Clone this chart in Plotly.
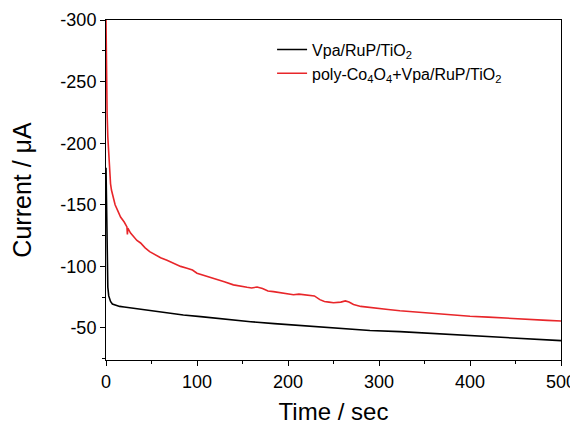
import plotly.graph_objects as go

# Black series: Vpa/RuP/TiO2
t_black = [0, 0.5, 1, 1.5, 2, 3, 4, 5, 7, 10, 15, 20, 30, 40, 50, 67, 85, 104, 130,
           159, 185, 213, 235, 258, 290, 323, 360, 400, 433, 470, 500]
i_black = [-180, -140, -110, -92, -83, -76, -73, -71.5, -69.5, -68.5, -67.5, -67, -66,
           -65, -64, -62, -60.5, -59.2, -57, -55.1, -53.5, -51.9, -50.8, -49.8, -48,
           -47, -45.5, -44.3, -43, -41.3, -39.7]

# Red series: poly-Co4O4+Vpa/RuP/TiO2
t_red = [0, 0.3, 0.7, 1.2, 2, 3, 4, 5, 6, 8, 10, 13, 16, 20, 23, 23.5, 24, 27, 30, 34,
         38, 43, 48, 55, 60, 67, 75, 82, 89, 95, 100, 111, 120, 130, 140, 148, 155, 160,
         166, 172, 178, 184, 195, 206, 212, 218, 224, 229, 235, 240, 245, 250, 258, 263,
         267, 272, 280, 290, 300, 310, 323, 340, 360, 378, 400, 420, 433, 450, 470, 485, 500]
i_red = [-300, -270, -245, -225, -205, -188, -175, -167, -162, -155, -150, -145, -140,
         -136, -132, -126, -131, -127, -124, -121, -119, -115, -112, -109, -107, -105,
         -102, -100, -98.5, -97, -94.5, -91.7, -90, -87.5, -85, -83.6, -83, -82.5, -83.2,
         -82, -80, -79.5, -78, -77, -77.5, -77, -77, -76, -73, -71.5, -71, -70.5, -71,
         -72, -71, -69, -67.5, -66.5, -65.5, -65, -64, -63, -61.8, -60.6, -59.5, -58.8,
         -58.4, -57.5, -56.8, -56.2, -55.7]

x_ticks = [0, 100, 200, 300, 400, 500]
x_labels = ["0", "100", "200", "300", "400", "500"]
y_ticks = [-300, -250, -200, -150, -100, -50]
y_labels = ["-300", "-250", "-200", "-150", "-100", "-50"]

font = "Arial, Liberation Sans, sans-serif"

fig = go.Figure()
fig.add_trace(go.Scatter(x=t_black, y=i_black, mode="lines", name="Vpa/RuP/TiO<sub>2</sub>",
                         line=dict(color="black", width=1.6)))
fig.add_trace(go.Scatter(x=t_red, y=i_red, mode="lines",
                         name="poly-Co<sub>4</sub>O<sub>4</sub>+Vpa/RuP/TiO<sub>2</sub>",
                         line=dict(color="#e8262a", width=1.6)))

axis_common = dict(showline=True, linecolor="black", linewidth=1, mirror=True,
                   ticks="outside", ticklen=5, tickwidth=1, tickcolor="black",
                   showgrid=False, zeroline=False, automargin=False,
                   tickfont=dict(family=font, size=18, color="black"))

fig.update_xaxes(range=[0, 500], tickvals=x_ticks, ticktext=x_labels,
                 minor=dict(ticks="outside", ticklen=3, dtick=50, tick0=0, tickcolor="black"),
                 title=dict(text="Time / sec", font=dict(family=font, size=24, color="black"),
                            standoff=17),
                 **axis_common)
fig.update_yaxes(range=[-24, -300], tickvals=y_ticks, ticktext=y_labels,
                 minor=dict(ticks="outside", ticklen=3, dtick=25, tick0=0, tickcolor="black"),
                 title=dict(text="Current / μA", font=dict(family=font, size=25, color="black"),
                            standoff=23),
                 **axis_common)

# page body has an 8px margin, so the figure is sized/offset to land the plot at the reference spot
fig.update_layout(
    width=570, height=417,
    margin=dict(l=98, r=17, t=12, b=65, autoexpand=False),
    paper_bgcolor="white", plot_bgcolor="white",
    showlegend=True,
    legend=dict(x=0.365, y=0.963, xanchor="left", yanchor="top",
                font=dict(family=font, size=16, color="black"),
                bgcolor="rgba(0,0,0,0)", tracegroupgap=0),
)

fig.write_html("out.html")
